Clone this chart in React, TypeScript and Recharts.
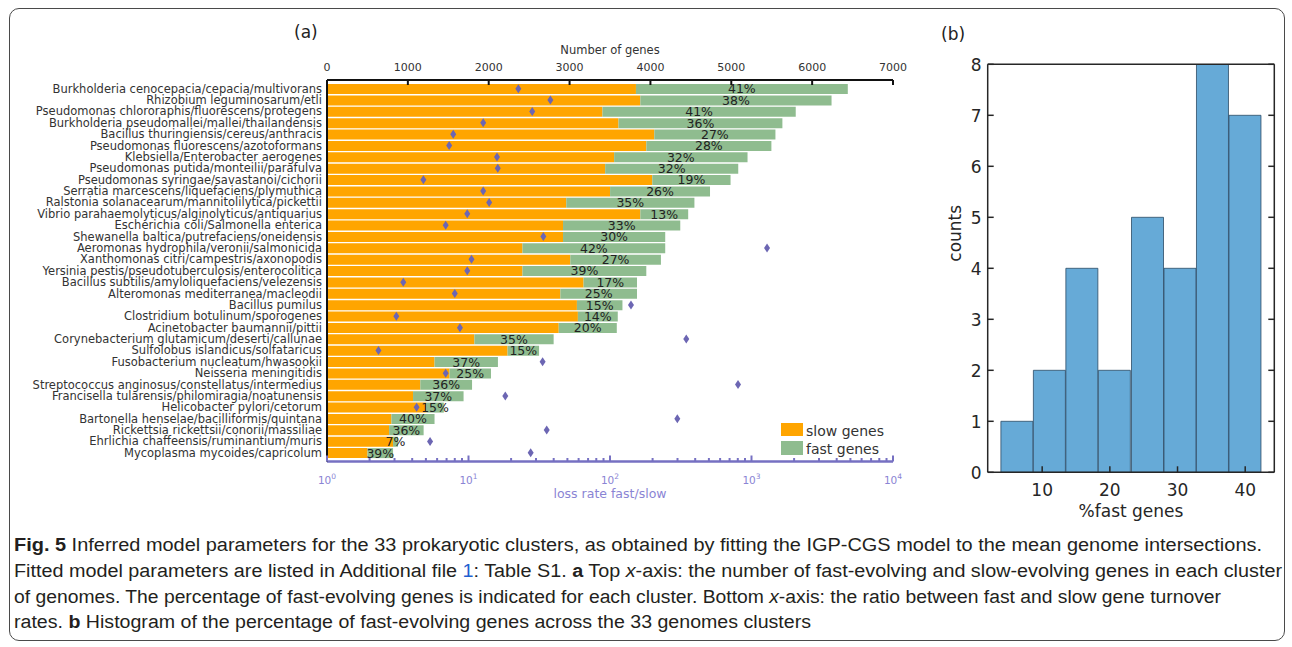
import React from "react";
import {
  ComposedChart,
  BarChart,
  Bar,
  Scatter,
  XAxis,
  YAxis,
  LabelList,
  Legend,
  Label,
} from "recharts";

// genome clusters, top to bottom
const clusters = [
  "Burkholderia cenocepacia/cepacia/multivorans",
  "Rhizobium leguminosarum/etli",
  "Pseudomonas chlororaphis/fluorescens/protegens",
  "Burkholderia pseudomallei/mallei/thailandensis",
  "Bacillus thuringiensis/cereus/anthracis",
  "Pseudomonas fluorescens/azotoformans",
  "Klebsiella/Enterobacter aerogenes",
  "Pseudomonas putida/monteilii/parafulva",
  "Pseudomonas syringae/savastanoi/cichorii",
  "Serratia marcescens/liquefaciens/plymuthica",
  "Ralstonia solanacearum/mannitolilytica/pickettii",
  "Vibrio parahaemolyticus/alginolyticus/antiquarius",
  "Escherichia coli/Salmonella enterica",
  "Shewanella baltica/putrefaciens/oneidensis",
  "Aeromonas hydrophila/veronii/salmonicida",
  "Xanthomonas citri/campestris/axonopodis",
  "Yersinia pestis/pseudotuberculosis/enterocolitica",
  "Bacillus subtilis/amyloliquefaciens/velezensis",
  "Alteromonas mediterranea/macleodii",
  "Bacillus pumilus",
  "Clostridium botulinum/sporogenes",
  "Acinetobacter baumannii/pittii",
  "Corynebacterium glutamicum/deserti/callunae",
  "Sulfolobus islandicus/solfataricus",
  "Fusobacterium nucleatum/hwasookii",
  "Neisseria meningitidis",
  "Streptococcus anginosus/constellatus/intermedius",
  "Francisella tularensis/philomiragia/noatunensis",
  "Helicobacter pylori/cetorum",
  "Bartonella henselae/bacilliformis/quintana",
  "Rickettsia rickettsii/conorii/massiliae",
  "Ehrlichia chaffeensis/ruminantium/muris",
  "Mycoplasma mycoides/capricolum",
];

const slowGenes = [
  3821, 3875, 3407, 3605, 4048, 3949, 3551, 3440, 4023, 3501, 2959, 3875, 2919,
  2919, 2418, 3009, 2418, 3173, 2886, 3091, 3103, 2866, 1823, 2233, 1330, 1515,
  1154, 1064, 1228, 797, 768, 817, 501,
];

const fastGenes = [
  2620, 2365, 2390, 2027, 1498, 1547, 1650, 1646, 968, 1236, 1585, 592, 1450,
  1264, 1765, 1121, 1531, 661, 948, 563, 493, 718, 980, 390, 784, 513, 640, 625,
  217, 533, 427, 61, 316,
];

const fastPct = [
  41, 38, 41, 36, 27, 28, 32, 32, 19, 26, 35, 13, 33, 30, 42, 27, 39, 17, 25, 15,
  14, 20, 35, 15, 37, 25, 36, 37, 15, 40, 36, 7, 39,
];

// loss rate fast/slow
const lossRatio = [
  22.5, 37.9, 28.2, 12.7, 7.8, 7.3, 15.9, 16.1, 4.8, 12.7, 14.0, 9.8, 6.9, 33.8,
  1288, 10.5, 9.8, 3.46, 8.0, 140.7, 3.09, 8.7, 346, 2.31, 33.4, 6.9, 803, 18.2,
  4.3, 299, 35.7, 5.35, 27.5,
];

const geneTicks = [0, 1000, 2000, 3000, 4000, 5000, 6000, 7000];
const decades = [1, 10, 100, 1000, 10000];
const lossTicks: number[] = [];
for (let d = 1; d < 10000; d *= 10) {
  for (let m = 1; m < 10; m++) lossTicks.push(m * d);
}
lossTicks.push(10000);

// histogram of %fast genes
const binCenters = [6.3, 11.1, 15.9, 20.7, 25.6, 30.4, 35.2, 40.0];
const binCounts = [1, 2, 4, 2, 5, 4, 8, 7];
const pctTicks = [10, 20, 30, 40];
const countTicks = [0, 1, 2, 3, 4, 5, 6, 7, 8];

const rows = clusters.map((name, i) => ({
  name,
  slow: slowGenes[i],
  fast: fastGenes[i],
  pct: fastPct[i],
  loss: lossRatio[i],
}));

const bins = binCenters.map((center, i) => ({ center, count: binCounts[i] }));

const FONT = "DejaVu Sans, Verdana, sans-serif";
const SLOW = "#FFA500";
const FAST = "#8FBC8F";
const PURPLE = "#7670c2";
const PURPLE_TEXT = "#8a84d4";
const DARK = "#262626";

const GeneTick = (props: any) => {
  const { x, y, payload } = props;
  return (
    <g>
      <line x1={x} x2={x} y1={y} y2={y + 5} stroke="#111" strokeWidth={2} />
      <text x={x} y={y - 9} textAnchor="middle" fontSize={11} fill="#333" fontFamily={FONT}>
        {payload.value}
      </text>
    </g>
  );
};

const LossTick = (props: any) => {
  const { x, y, payload } = props;
  const v = payload.value;
  const major = decades.includes(v);
  return (
    <g>
      <line x1={x} x2={x} y1={y} y2={y - (major ? 6 : 3.5)} stroke={PURPLE} strokeWidth={2} />
      {major && (
        <text x={x} y={y + 22} textAnchor="middle" fontSize={10.5} fill={PURPLE_TEXT} fontFamily={FONT}>
          10
          <tspan dy={-5} fontSize={7.5}>
            {String(v).length - 1}
          </tspan>
        </text>
      )}
    </g>
  );
};

const ClusterTick = (props: any) => {
  const { x, y, payload } = props;
  return (
    <text x={x - 5} y={y + 4} textAnchor="end" fontSize={11.5} fill="#333" fontFamily={FONT}>
      {payload.value}
    </text>
  );
};

const Diamond = (props: any) => {
  const { cx, cy } = props;
  if (cx == null || cy == null) return null;
  return (
    <polygon
      points={`${cx},${cy - 4.5} ${cx + 3},${cy} ${cx},${cy + 4.5} ${cx - 3},${cy}`}
      fill="#6c66b3"
    />
  );
};

const GeneLegend = () => (
  <svg width={112} height={40}>
    <rect x={0} y={4} width={22} height={13} fill={SLOW} />
    <text x={25} y={17} fontSize={14} fill="#333" fontFamily={FONT}>
      slow genes
    </text>
    <rect x={0} y={22} width={22} height={14} fill={FAST} />
    <text x={25} y={35} fontSize={14} fill="#333" fontFamily={FONT}>
      fast genes
    </text>
  </svg>
);

const HistBottomTick = (props: any) => {
  const { x, y, payload } = props;
  return (
    <g>
      <line x1={x} x2={x} y1={y} y2={y - 6} stroke={DARK} strokeWidth={1.5} />
      <text x={x} y={y + 24} textAnchor="middle" fontSize={17} fill={DARK} fontFamily={FONT}>
        {payload.value}
      </text>
    </g>
  );
};

const HistTopTick = (props: any) => {
  const { x, y } = props;
  return <line x1={x} x2={x} y1={y} y2={y + 6} stroke={DARK} strokeWidth={1.5} />;
};

const HistLeftTick = (props: any) => {
  const { x, y, payload } = props;
  return (
    <g>
      <line x1={x} x2={x + 6} y1={y} y2={y} stroke={DARK} strokeWidth={1.5} />
      <text x={x - 6} y={y + 6.3} textAnchor="end" fontSize={17} fill={DARK} fontFamily={FONT}>
        {payload.value}
      </text>
    </g>
  );
};

const HistRightTick = (props: any) => {
  const { x, y } = props;
  return <line x1={x} x2={x - 6} y1={y} y2={y} stroke={DARK} strokeWidth={1.5} />;
};

const CountsLabel = (props: any) => {
  const vb = props.viewBox;
  return (
    <text
      transform={`translate(${vb.x + 27.5}, ${vb.y + 169}) rotate(-90)`}
      textAnchor="middle"
      dominantBaseline="central"
      fontSize={17}
      fill={DARK}
      fontFamily={FONT}
    >
      counts
    </text>
  );
};

const GenesPanel = () => (
  <ComposedChart
    width={920}
    height={505}
    layout="vertical"
    data={rows}
    margin={{ top: 40, right: 27, bottom: 3.5, left: 7 }}
    barSize={10}
  >
    <XAxis
      xAxisId="genes"
      type="number"
      orientation="top"
      domain={[0, 7000]}
      ticks={geneTicks}
      interval={0}
      height={40}
      tickSize={0}
      tickMargin={0}
      tickLine={false}
      tick={<GeneTick />}
      axisLine={{ stroke: "#111", strokeWidth: 2 }}
      allowDataOverflow
    >
      <Label
        value="Number of genes"
        position="insideTop"
        offset={6}
        fontSize={11.5}
        fill="#333"
        fontFamily={FONT}
      />
    </XAxis>
    <XAxis
      xAxisId="loss"
      dataKey="loss"
      type="number"
      scale="log"
      orientation="bottom"
      domain={[1, 10000]}
      ticks={lossTicks}
      interval={0}
      height={40}
      tickSize={0}
      tickMargin={0}
      tickLine={false}
      tick={<LossTick />}
      axisLine={{ stroke: PURPLE, strokeWidth: 2.5 }}
      allowDataOverflow
    >
      <Label
        value="loss rate fast/slow"
        position="insideBottom"
        offset={4}
        fontSize={12.5}
        fill={PURPLE_TEXT}
        fontFamily={FONT}
      />
    </XAxis>
    <YAxis
      type="category"
      dataKey="name"
      width={320}
      interval={0}
      padding={{ top: 3, bottom: 3 }}
      tickSize={0}
      tickMargin={0}
      tickLine={false}
      tick={<ClusterTick />}
      axisLine={{ stroke: "#111", strokeWidth: 2 }}
    />
    <Bar xAxisId="genes" dataKey="slow" stackId="g" fill={SLOW} isAnimationActive={false} />
    <Bar xAxisId="genes" dataKey="fast" stackId="g" fill={FAST} isAnimationActive={false}>
      <LabelList
        dataKey="pct"
        position="center"
        formatter={(v: any) => `${v}%`}
        fontSize={12.5}
        fill="#222"
        fontFamily={FONT}
      />
    </Bar>
    <Scatter xAxisId="loss" dataKey="loss" shape={<Diamond />} isAnimationActive={false} />
    <Legend
      layout="vertical"
      align="center"
      verticalAlign="middle"
      content={() => <GeneLegend />}
      wrapperStyle={{ left: 781, top: 419, width: 112, height: 40 }}
    />
  </ComposedChart>
);

const HistogramPanel = () => (
  <BarChart
    width={392}
    height={530}
    data={bins}
    margin={{ top: 54.3, right: 7.7, bottom: 7.7, left: 27.7 }}
    barCategoryGap={0}
    barGap={0}
  >
    <XAxis
      dataKey="center"
      type="number"
      domain={[1.95, 44.3]}
      ticks={pctTicks}
      interval={0}
      height={50}
      tickSize={0}
      tickMargin={0}
      tickLine={false}
      tick={<HistBottomTick />}
      axisLine={{ stroke: DARK, strokeWidth: 1.5 }}
      allowDataOverflow
    >
      <Label
        value="%fast genes"
        position="insideBottom"
        offset={5}
        fontSize={17}
        fill={DARK}
        fontFamily={FONT}
      />
    </XAxis>
    <XAxis
      xAxisId="top"
      type="number"
      orientation="top"
      domain={[1.95, 44.3]}
      ticks={pctTicks}
      interval={0}
      height={10}
      tickSize={0}
      tickMargin={0}
      tickLine={false}
      tick={<HistTopTick />}
      axisLine={{ stroke: DARK, strokeWidth: 1.5 }}
      allowDataOverflow
    />
    <YAxis
      type="number"
      domain={[0, 8]}
      ticks={countTicks}
      interval={0}
      width={60}
      tickSize={0}
      tickMargin={0}
      tickLine={false}
      tick={<HistLeftTick />}
      axisLine={{ stroke: DARK, strokeWidth: 1.5 }}
      allowDataOverflow
    >
      <Label content={<CountsLabel />} />
    </YAxis>
    <YAxis
      yAxisId="right"
      type="number"
      orientation="right"
      domain={[0, 8]}
      ticks={countTicks}
      interval={0}
      width={10}
      tickSize={0}
      tickMargin={0}
      tickLine={false}
      tick={<HistRightTick />}
      axisLine={{ stroke: DARK, strokeWidth: 1.5 }}
      allowDataOverflow
    />
    <Bar
      dataKey="count"
      fill="#66AAD7"
      stroke="#2c4b66"
      strokeWidth={0.8}
      isAnimationActive={false}
    />
  </BarChart>
);

const CAPTION = "Liberation Sans, Arial, sans-serif";

const Caption = () => (
  <svg width={1292} height={115} style={{ position: "absolute", left: 0, top: 525 }}>
    <g fontFamily={CAPTION} fontSize={18} fill="#231f20">
      <text x={14} y={26} textLength={1248} lengthAdjust="spacingAndGlyphs">
        <tspan fontWeight="bold">Fig. 5</tspan> Inferred model parameters for the 33 prokaryotic
        clusters, as obtained by fitting the IGP-CGS model to the mean genome intersections.
      </text>
      <text x={14} y={52} textLength={1268} lengthAdjust="spacingAndGlyphs">
        Fitted model parameters are listed in Additional file{" "}
        <tspan fill="#1f5fd0">1</tspan>: Table S1. <tspan fontWeight="bold">a</tspan> Top{" "}
        <tspan fontStyle="italic">x</tspan>-axis: the number of fast-evolving and slow-evolving
        genes in each cluster
      </text>
      <text x={14} y={78} textLength={1207} lengthAdjust="spacingAndGlyphs">
        of genomes. The percentage of fast-evolving genes is indicated for each cluster. Bottom{" "}
        <tspan fontStyle="italic">x</tspan>-axis: the ratio between fast and slow gene turnover
      </text>
      <text x={14} y={103} textLength={797} lengthAdjust="spacingAndGlyphs">
        rates. <tspan fontWeight="bold">b</tspan> Histogram of the percentage of fast-evolving
        genes across the 33 genomes clusters
      </text>
    </g>
  </svg>
);

export default function App() {
  return (
    <div
      style={{
        position: "absolute",
        left: 0,
        top: 0,
        width: 1292,
        height: 647,
        background: "#fff",
        overflow: "hidden",
      }}
    >
      <div
        style={{
          position: "absolute",
          left: 9,
          top: 8,
          width: 1274,
          height: 631,
          border: "1.5px solid #4a4a4a",
          borderRadius: 10,
        }}
      />
      <div style={{ position: "absolute", left: 0, top: 0 }}>
        <GenesPanel />
      </div>
      <div style={{ position: "absolute", left: 900, top: 0 }}>
        <HistogramPanel />
      </div>
      <div
        style={{
          position: "absolute",
          left: 294,
          top: 22,
          fontFamily: FONT,
          fontSize: 17,
          color: "#222",
        }}
      >
        (a)
      </div>
      <div
        style={{
          position: "absolute",
          left: 941,
          top: 24,
          fontFamily: FONT,
          fontSize: 17,
          color: "#222",
        }}
      >
        (b)
      </div>
      <Caption />
    </div>
  );
}
